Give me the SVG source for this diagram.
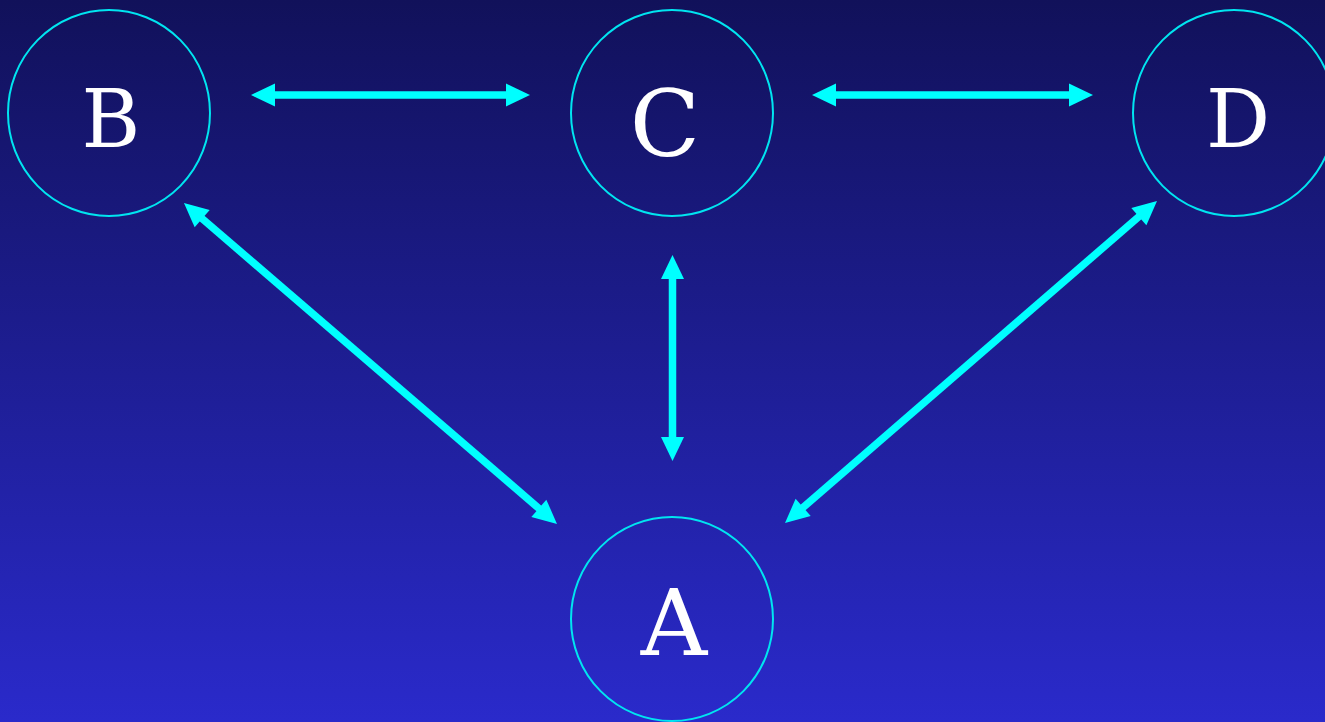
<svg xmlns="http://www.w3.org/2000/svg" width="1325" height="722" viewBox="0 0 1325 722">
<defs>
<linearGradient id="bg" x1="0" y1="0" x2="0" y2="1">
<stop offset="0" stop-color="#11115a"/>
<stop offset="1" stop-color="#2a2acb"/>
</linearGradient>
<marker id="ah" markerUnits="userSpaceOnUse" markerWidth="24" markerHeight="24" refX="0" refY="0" viewBox="0 -12 24 24" orient="auto-start-reverse" overflow="visible">
<path d="M-1,-11.5 L23,0 L-1,11.5 Z" fill="#00ffff"/>
</marker>
<style>
.node ellipse{fill:none;stroke:#00e5f0;stroke-width:2}
.node text{font-family:"DejaVu Serif","Liberation Serif",serif;fill:#ffffff;text-anchor:middle}
.edge{stroke:#00ffff;stroke-width:7.5;fill:none;marker-start:url(#ah);marker-end:url(#ah)}
</style>
</defs>
<rect width="1325" height="722" fill="url(#bg)"/>
<g id="connectors">
<line class="edge" x1="274" y1="95" x2="507" y2="95"/>
<line class="edge" x1="835" y1="95" x2="1070" y2="95"/>
<line class="edge" x1="672.5" y1="278" x2="672.5" y2="438"/>
<line class="edge" x1="201.4" y1="218" x2="539.6" y2="509"/>
<line class="edge" x1="1139.6" y1="216" x2="802.4" y2="508"/>
</g>
<g id="node-B" class="node"><ellipse cx="109" cy="113" rx="101" ry="103"/><text x="111" y="147" font-size="80">B</text></g>
<g id="node-C" class="node"><ellipse cx="672" cy="113" rx="101" ry="103"/><text x="665" y="156" font-size="92">C</text></g>
<g id="node-D" class="node"><ellipse cx="1234" cy="113" rx="101" ry="103"/><text x="1238" y="147" font-size="80">D</text></g>
<g id="node-A" class="node"><ellipse cx="672" cy="619" rx="101" ry="102"/><text x="674" y="655" font-size="92">A</text></g>
</svg>
